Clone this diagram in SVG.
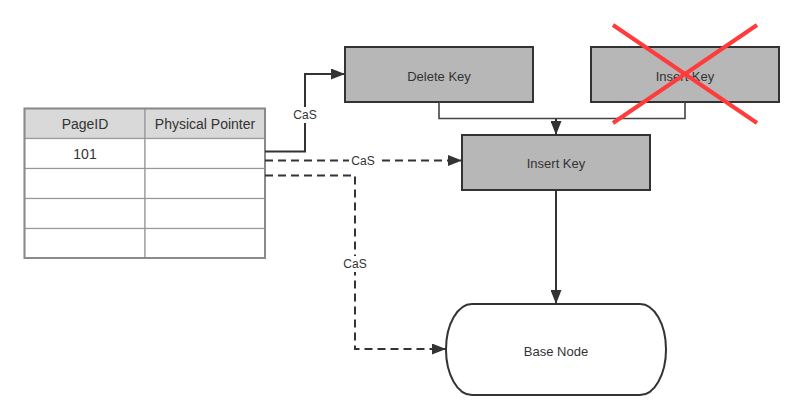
<svg xmlns="http://www.w3.org/2000/svg" width="804" height="419" viewBox="0 0 804 419">
<style>
text{font-family:"Liberation Sans","Noto Sans",Arial,sans-serif;fill:#333;text-anchor:middle;dominant-baseline:central}
.box{fill:#b7b7b7;stroke:#333;stroke-width:2}
.lbl{font-size:13px}
.cell{fill:#fff;stroke:#999;stroke-width:1.2}
.hdr{fill:#d9d9d9;stroke:#999;stroke-width:1.2}
.tt{font-size:14px}
.ln{fill:none;stroke:#333;stroke-width:2}
.dash{stroke-dasharray:8 5}
.cas{font-size:12px}
.bg{fill:#fff}
</style>
<defs>
<marker id="arr" viewBox="0 0 14 11" refX="14" refY="5.5" markerWidth="14" markerHeight="11" markerUnits="userSpaceOnUse" orient="auto">
<path d="M0,0 L14,5.5 L0,11 z" fill="#333"/>
</marker>
</defs>
<g id="table">
<rect class="hdr" x="24.5" y="108.5" width="120.5" height="30"/>
<rect class="hdr" x="145" y="108.5" width="120" height="30"/>
<rect class="cell" x="24.5" y="138.5" width="120.5" height="30"/>
<rect class="cell" x="145" y="138.5" width="120" height="30"/>
<rect class="cell" x="24.5" y="168.5" width="120.5" height="30"/>
<rect class="cell" x="145" y="168.5" width="120" height="30"/>
<rect class="cell" x="24.5" y="198.5" width="120.5" height="30"/>
<rect class="cell" x="145" y="198.5" width="120" height="30"/>
<rect class="cell" x="24.5" y="228.5" width="120.5" height="29.5"/>
<rect class="cell" x="145" y="228.5" width="120" height="29.5"/>
<rect x="24.5" y="108.5" width="240.5" height="149.5" fill="none" stroke="#8a8a8a" stroke-width="2"/>
<text class="tt" x="85" y="124">PageID</text>
<text class="tt" x="205" y="124">Physical Pointer</text>
<text class="tt" x="85" y="154">101</text>
</g>
<g id="delete-key">
<rect class="box" x="345" y="47" width="188" height="55"/>
<text class="lbl" x="439" y="76">Delete Key</text>
</g>
<g id="insert-key-old">
<rect class="box" x="591" y="47" width="188" height="55"/>
<text class="lbl" x="685" y="76">Insert Key</text>
</g>
<g id="insert-key">
<rect class="box" x="462" y="135" width="188" height="55"/>
<text class="lbl" x="556" y="163">Insert Key</text>
</g>
<g id="base-node">
<rect x="446" y="304" width="220" height="91" rx="26" ry="45.5" fill="#fff" stroke="#333" stroke-width="2"/>
<text class="lbl" x="556" y="351">Base Node</text>
</g>
<g id="connectors">
<path class="ln" d="M265,151.5 H305 V74 H345" marker-end="url(#arr)"/>
<rect class="bg" x="291" y="107" width="28" height="16"/>
<text class="cas" x="305" y="115">CaS</text>
<path class="ln dash" d="M265,160.5 H462" marker-end="url(#arr)"/>
<rect class="bg" x="349" y="152" width="28" height="16"/>
<text class="cas" x="363" y="161">CaS</text>
<path class="ln dash" d="M265,175.5 H355 V349 H446" marker-end="url(#arr)"/>
<rect class="bg" x="341" y="256" width="28" height="16"/>
<text class="cas" x="355" y="264">CaS</text>
<path d="M439,102 V118.5 H685 V102" fill="none" stroke="#444" stroke-width="1.6"/>
<path class="ln" d="M556,118.5 V135" marker-end="url(#arr)"/>
<path class="ln" d="M556,190 V304" marker-end="url(#arr)"/>
</g>
<g id="cross">
<path d="M613,25 L757,123 M757,25 L613,123" stroke="#ff3b3b" stroke-width="4" fill="none"/>
</g>
</svg>
